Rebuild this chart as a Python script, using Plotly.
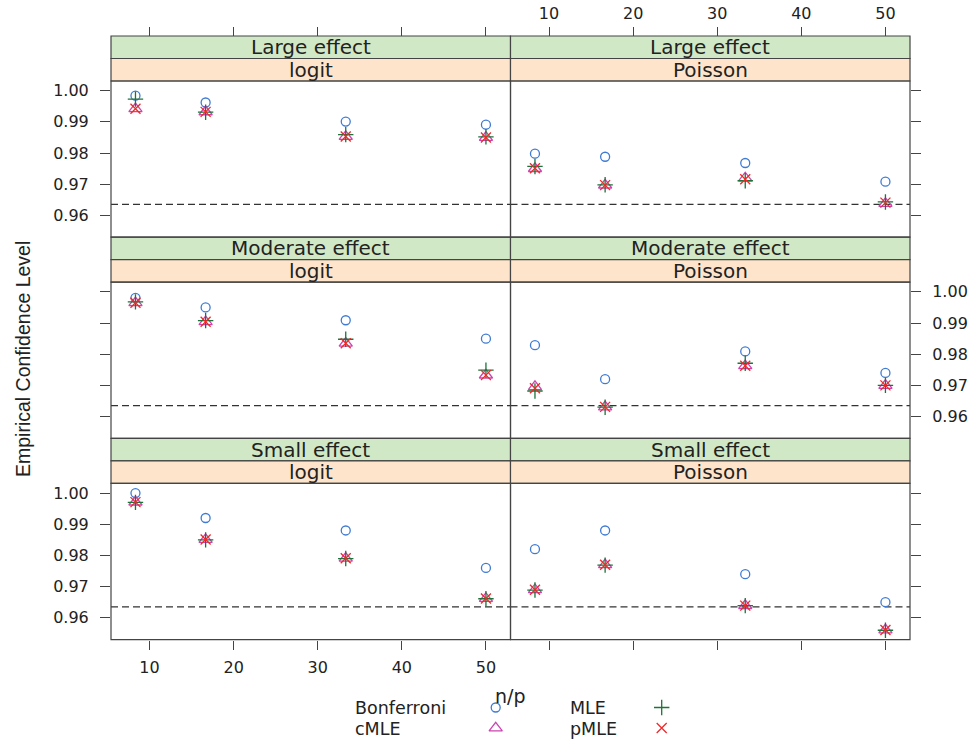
import plotly.graph_objects as go

W, H = 979, 739

# ---------------- data ----------------
NP_RATIO = [8.33, 16.67, 33.33, 50.0]
X_TICKS = [10, 20, 30, 40, 50]
Y_TICKS = [0.96, 0.97, 0.98, 0.99, 1.00]
Y_TICK_LABELS = ["0.96", "0.97", "0.98", "0.99", "1.00"]
EFFECTS = ["Large effect", "Moderate effect", "Small effect"]
MODELS = ["logit", "Poisson"]
METHODS = ["Bonferroni", "cMLE", "MLE", "pMLE"]
REF_LEVEL = 0.9635

large_logit_bonferroni = [0.9984, 0.9962, 0.9901, 0.9891]
large_logit_cmle = [0.9942, 0.9932, 0.9853, 0.9850]
large_logit_mle = [0.9973, 0.9931, 0.9859, 0.9852]
large_logit_pmle = [0.9942, 0.9932, 0.9853, 0.9850]

large_poisson_bonferroni = [0.9798, 0.9788, 0.9768, 0.9708]
large_poisson_cmle = [0.9750, 0.9697, 0.9720, 0.9638]
large_poisson_mle = [0.9757, 0.9698, 0.9711, 0.9643]
large_poisson_pmle = [0.9751, 0.9697, 0.9716, 0.9641]

moderate_logit_bonferroni = [0.9981, 0.9950, 0.9909, 0.9850]
moderate_logit_cmle = [0.9965, 0.9904, 0.9835, 0.9733]
moderate_logit_mle = [0.9968, 0.9908, 0.9848, 0.9749]
moderate_logit_pmle = [0.9965, 0.9904, 0.9835, 0.9733]

moderate_poisson_bonferroni = [0.9829, 0.9720, 0.9809, 0.9740]
moderate_poisson_cmle = [0.9696, 0.9631, 0.9763, 0.9700]
moderate_poisson_mle = [0.9682, 0.9630, 0.9771, 0.9700]
moderate_poisson_pmle = [0.9691, 0.9631, 0.9763, 0.9700]

small_logit_bonferroni = [1.0000, 0.9920, 0.9880, 0.9760]
small_logit_cmle = [0.9971, 0.9851, 0.9791, 0.9662]
small_logit_mle = [0.9970, 0.9850, 0.9790, 0.9661]
small_logit_pmle = [0.9971, 0.9851, 0.9791, 0.9662]

small_poisson_bonferroni = [0.9820, 0.9880, 0.9740, 0.9650]
small_poisson_cmle = [0.9690, 0.9770, 0.9639, 0.9561]
small_poisson_mle = [0.9689, 0.9769, 0.9639, 0.9560]
small_poisson_pmle = [0.9690, 0.9770, 0.9639, 0.9561]

PANEL_DATA = {
    ("Large effect", "logit"): [large_logit_bonferroni, large_logit_cmle, large_logit_mle, large_logit_pmle],
    ("Large effect", "Poisson"): [large_poisson_bonferroni, large_poisson_cmle, large_poisson_mle, large_poisson_pmle],
    ("Moderate effect", "logit"): [moderate_logit_bonferroni, moderate_logit_cmle, moderate_logit_mle, moderate_logit_pmle],
    ("Moderate effect", "Poisson"): [moderate_poisson_bonferroni, moderate_poisson_cmle, moderate_poisson_mle, moderate_poisson_pmle],
    ("Small effect", "logit"): [small_logit_bonferroni, small_logit_cmle, small_logit_mle, small_logit_pmle],
    ("Small effect", "Poisson"): [small_poisson_bonferroni, small_poisson_cmle, small_poisson_mle, small_poisson_pmle],
}

# ---------------- styles / layout ----------------
STYLE = {
    "Bonferroni": dict(symbol="circle-open", size=9, color="#3f7bd4"),
    "cMLE": dict(symbol="triangle-up-open", size=11.5, color="#cc44b0"),
    "MLE": dict(symbol="cross-thin-open", size=11, color="#1d7338"),
    "pMLE": dict(symbol="x-thin-open", size=10, color="#ee2a2a"),
}
TXT = "#222222"
EDGE = "#444444"
GREEN = "#D1E8C6"
ORANGE = "#FDE4CB"
TICK_FONT = dict(family="DejaVu Sans", size=16, color=TXT)
STRIP_FONT = dict(family="DejaVu Sans", size=20, color=TXT)
KEY_FONT = dict(family="DejaVu Sans", size=17.5, color=TXT)

X_RANGE = [5.42, 52.92]
Y_RANGE = [0.9530, 1.0031]

COL_PX = [(111.0, 510.5), (510.5, 910.0)]
ROW_TOP0, ROW_PITCH, STRIP_H = 36.0, 201.2, 22.5


def px(x):
    return x / W


def py(y):
    return 1 - y / H


def aid(letter, k):
    return letter if k == 1 else f"{letter}{k}"


def lid(letter, k):
    return f"{letter}axis" if k == 1 else f"{letter}axis{k}"


fig = go.Figure()
shapes = []
annotations = []
layout = {}

for r, eff in enumerate(EFFECTS):
    top = ROW_TOP0 + r * ROW_PITCH
    plot_top = top + 2 * STRIP_H
    plot_bot = top + ROW_PITCH
    for c, mod in enumerate(MODELS):
        k = r * 2 + c + 1
        xa, ya = aid("x", k), aid("y", k)
        x0p, x1p = COL_PX[c]
        vals = PANEL_DATA[(eff, mod)]
        for m, series in zip(METHODS, vals):
            st = STYLE[m]
            fig.add_trace(go.Scatter(
                x=NP_RATIO, y=series, mode="markers", name=m, showlegend=False,
                xaxis=xa, yaxis=ya, cliponaxis=False,
                marker=dict(symbol=st["symbol"], size=st["size"], color=st["color"],
                            line=dict(color=st["color"], width=1.3)),
            ))

        xaxis = dict(domain=[px(x0p), px(x1p)], range=X_RANGE, tickvals=X_TICKS,
                     showgrid=False, zeroline=False, showline=False,
                     ticklen=9, tickwidth=1, tickcolor=EDGE, tickfont=TICK_FONT)
        if r == 0:
            xaxis.update(anchor="free", position=py(top), side="top", ticks="outside",
                         showticklabels=(c == 1), ticklabelstandoff=2)
        elif r == len(EFFECTS) - 1:
            xaxis.update(anchor=ya, side="bottom", ticks="outside",
                         showticklabels=(c == 0), ticklabelstandoff=4)
        else:
            xaxis.update(anchor=ya, ticks="", showticklabels=False)
        layout[lid("x", k)] = xaxis

        yaxis = dict(domain=[py(plot_bot), py(plot_top)], range=Y_RANGE,
                     tickvals=Y_TICKS, ticktext=Y_TICK_LABELS, anchor=xa,
                     side="left" if c == 0 else "right", ticks="outside",
                     ticklen=10, tickwidth=1, tickcolor=EDGE, tickfont=TICK_FONT,
                     showgrid=False, zeroline=False, showline=False,
                     ticklabelstandoff=8)
        if c == 0:
            yaxis["showticklabels"] = r in (0, 2)
        else:
            yaxis["showticklabels"] = r == 1
        layout[lid("y", k)] = yaxis

        # reference line
        shapes.append(dict(type="line", xref=f"{xa} domain", yref=ya, x0=0, x1=1,
                           y0=REF_LEVEL, y1=REF_LEVEL, layer="below",
                           line=dict(color="#333333", width=1.2, dash="7px,4px")))
        # panel border
        shapes.append(dict(type="rect", xref=f"{xa} domain", yref=f"{ya} domain",
                           x0=0, x1=1, y0=0, y1=1, line=dict(color=EDGE, width=1.2)))
        # strips
        shapes.append(dict(type="rect", xref="paper", yref="paper",
                           x0=px(x0p), x1=px(x1p), y0=py(top + STRIP_H), y1=py(top),
                           fillcolor=GREEN, line=dict(color=EDGE, width=1.2), layer="below"))
        shapes.append(dict(type="rect", xref="paper", yref="paper",
                           x0=px(x0p), x1=px(x1p), y0=py(top + 2 * STRIP_H), y1=py(top + STRIP_H),
                           fillcolor=ORANGE, line=dict(color=EDGE, width=1.2), layer="below"))
        annotations.append(dict(text=eff, xref="paper", yref="paper",
                                x=px((x0p + x1p) / 2), y=py(top + STRIP_H / 2),
                                xanchor="center", yanchor="middle", showarrow=False,
                                font=STRIP_FONT))
        annotations.append(dict(text=mod, xref="paper", yref="paper",
                                x=px((x0p + x1p) / 2), y=py(top + 1.5 * STRIP_H),
                                xanchor="center", yanchor="middle", showarrow=False,
                                font=STRIP_FONT))

# axis titles
annotations.append(dict(text="Empirical Confidence Level", xref="paper", yref="paper",
                        x=px(23), y=py(359), textangle=-90, xanchor="center", yanchor="middle",
                        showarrow=False, font=dict(family="Liberation Sans", size=19.5, color=TXT)))
annotations.append(dict(text="n/p", xref="paper", yref="paper",
                        x=px(510.5), y=py(696), xanchor="center", yanchor="middle",
                        showarrow=False, font=dict(family="DejaVu Sans", size=19, color=TXT)))

# key (text left, symbol right, two columns)
KEY_POS = {
    "Bonferroni": (353, 495.7, 708.0),
    "cMLE": (353, 495.7, 728.5),
    "MLE": (567.7, 661.7, 708.0),
    "pMLE": (567.7, 661.7, 728.5),
}
for m in METHODS:
    tx, mx, yy = KEY_POS[m]
    annotations.append(dict(text=m, xref="paper", yref="paper", x=px(tx), y=py(yy),
                            xanchor="left", yanchor="middle", showarrow=False,
                            font=KEY_FONT))
    st = STYLE[m]
    fig.add_trace(go.Scatter(
        x=[mx], y=[yy - 0.5], mode="markers", showlegend=False, xaxis="x7", yaxis="y7",
        hoverinfo="skip", cliponaxis=False,
        marker=dict(symbol=st["symbol"], size=st["size"], color=st["color"],
                    line=dict(color=st["color"], width=1.3)),
    ))
layout["xaxis7"] = dict(domain=[0, 1], range=[0, W], visible=False, anchor="y7")
layout["yaxis7"] = dict(domain=[0, py(688)], range=[H, 688], visible=False, anchor="x7")

fig.update_layout(
    width=W, height=H, autosize=False,
    margin=dict(l=0, r=0, t=0, b=0),
    paper_bgcolor="white", plot_bgcolor="white",
    shapes=shapes, annotations=annotations,
    font=dict(family="DejaVu Sans", color=TXT),
    **layout,
)

fig.write_html("out.html")
